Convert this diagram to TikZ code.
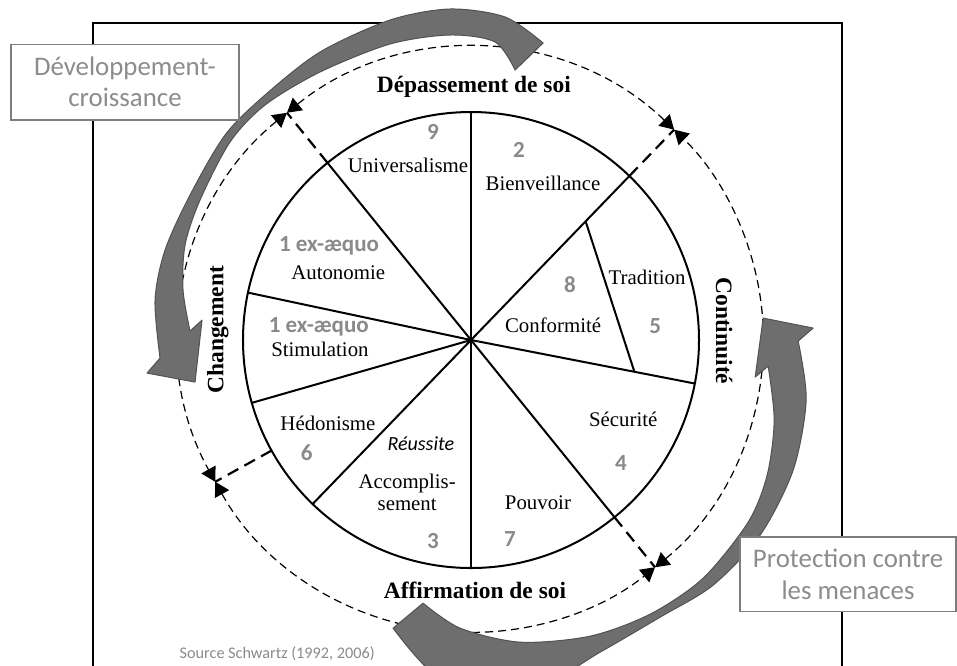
\documentclass[tikz,border=0pt]{standalone}
\usepackage{fontspec}
\setmainfont{Liberation Serif}
\newfontfamily\calib{Carlito}
\usetikzlibrary{arrows.meta}

\definecolor{bandgray}{RGB}{110,110,110}
\definecolor{bandedge}{RGB}{82,82,82}
\definecolor{numgray}{RGB}{138,138,138}
\definecolor{boxline}{RGB}{125,125,125}
\definecolor{boxtext}{RGB}{140,140,140}

\begin{document}
\begin{tikzpicture}
\useasboundingbox (-8.263,-5.702) rectangle (8.526,5.965);

\tikzstyle{spoke}=[line width=1pt]
\tikzstyle{radial}=[line width=1.1pt, dash pattern=on 6pt off 3.5pt]
\tikzstyle{ring}=[line width=0.6pt, dash pattern=on 4pt off 2.5pt,
    {Triangle[length=7pt,width=8pt]}-{Triangle[length=7pt,width=8pt]}]
\tikzstyle{band}=[fill=bandgray, draw=bandedge, line width=0.5pt, line join=round]
\tikzstyle{num}=[text=numgray, font=\calib\bfseries\fontsize{11.5}{13}\selectfont]
\tikzstyle{val}=[font=\fontsize{10.4}{11}\selectfont, align=center]
\tikzstyle{pole}=[font=\bfseries\fontsize{11.7}{14}\selectfont]
\tikzstyle{callout}=[rectangle, draw=boxline, fill=white, text=boxtext, align=center,
    inner sep=0pt, line width=0.6pt, font=\calib\fontsize{13.4}{15.5}\selectfont]

% cadre
\draw[line width=0.75pt] (-6.632,-5.8) -- (-6.632,5.561) -- (6.509,5.561) -- (6.509,-5.8);

\coordinate (c) at (0,0);
\coordinate (b1) at (46:5.13);
\coordinate (b2) at (129:5.13);
\coordinate (b3) at (209:5.13);
\coordinate (b4) at (309:5.13);

% cercle en pointilles
\draw[ring] (b1) arc[start angle=46, end angle=129, radius=5.13];
\draw[ring] (b2) arc[start angle=129, end angle=209, radius=5.13];
\draw[ring] (b3) arc[start angle=209, end angle=309, radius=5.13];
\draw[ring] (b4) arc[start angle=309, end angle=406, radius=5.13];
\foreach \a/\b in {46/b1,129/b2,209/b3,309/b4}
    \draw[radial] (\a:4) -- (\b);

% roue
\draw[spoke] (c) circle (4);
\foreach \a in {46,90,129,168,196,226,270,309,349}
    \draw[spoke] (c) -- (\a:4);
\draw[spoke] (46:2.895) -- (349:2.92);

% fleches grises (en pixels)
\begin{scope}[x=0.017544cm, y=-0.017544cm, shift={(-8.263cm,5.965cm)}]
\filldraw[band] plot[smooth] coordinates {(543,43) (505,17) (450,9) (390,20)
    (320,52) (265,95) (225,135) (190,195) (165,250) (155,300) (160,358)}
    -- (147,373) -- (195,382) -- (202,320) --
    plot[smooth] coordinates {(190,331) (183,290) (185,245) (200,200) (230,142)
    (265,105) (320,72) (390,44) (450,35) (495,42) (515,70)}
    -- cycle;
\filldraw[band] plot[smooth] coordinates {(393,628) (445,682) (530,690) (600,652)
    (660,617) (713,585) (760,535) (793,470) (806,400) (798,341)}
    -- (813,328) -- (763,318) -- (755,377) --
    plot[smooth] coordinates {(768,366) (774,420) (767,475) (748,522) (703,578)
    (650,614) (590,636) (520,642) (460,628) (423,603)}
    -- cycle;
\end{scope}

\node[callout, minimum width=4cm, minimum height=1.33cm] (dev) at (-6.07,4.525)
    {Développement-\\croissance};
\node[callout, minimum width=3.79cm, minimum height=1.31cm] (prot) at (6.615,-4.11)
    {Protection contre\\les menaces};

\node[pole] (haut) at (0.05,4.44) {Dépassement de soi};
\node[pole] (bas) at (0.07,-4.40) {Affirmation de soi};
\node[pole, rotate=90] (gauche) at (-4.44,0.18) {Changement};
\node[pole, rotate=-90] (droite) at (4.44,0.16) {Continuité};

\node[num] (n9) at (-0.667,3.65) {9};
\node[val] (univ) at (-1.105,3.07) {Universalisme};
\node[num] (n2) at (0.842,3.33) {2};
\node[val] (bienv) at (1.263,2.74) {Bienveillance};
\node[num] (n1a) at (-2.49,1.65) {1 ex-æquo};
\node[val] (auto) at (-2.33,1.18) {Autonomie};
\node[num] (n8) at (1.737,0.98) {8};
\node[val] (trad) at (3.09,1.105) {Tradition};
\node[val] (conf) at (1.44,0.25) {Conformité};
\node[num] (n5) at (3.23,0.25) {5};
\node[num] (n1b) at (-2.67,0.23) {1 ex-æquo};
\node[val] (stim) at (-2.65,-0.16) {Stimulation};
\node[val] (hedo) at (-2.51,-1.46) {Hédonisme};
\node[num] (n6) at (-2.88,-1.98) {6};
\node[font=\calib\itshape\fontsize{10}{12}\selectfont] (reus) at (-0.88,-1.82) {Réussite};
\node[val] (accomp) at (-1.12,-2.667) {Accomplis-\\sement};
\node[num] (n3) at (-0.667,-3.53) {3};
\node[val] (pouv) at (1.175,-2.86) {Pouvoir};
\node[num] (n7) at (0.684,-3.49) {7};
\node[val] (secu) at (2.67,-1.39) {Sécurité};
\node[num] (n4) at (2.63,-2.16) {4};

\node[text=numgray, font=\calib\fontsize{8.1}{9}\selectfont] (src) at (-3.40,-5.51)
    {Source Schwartz (1992, 2006)};
\end{tikzpicture}
\end{document}
